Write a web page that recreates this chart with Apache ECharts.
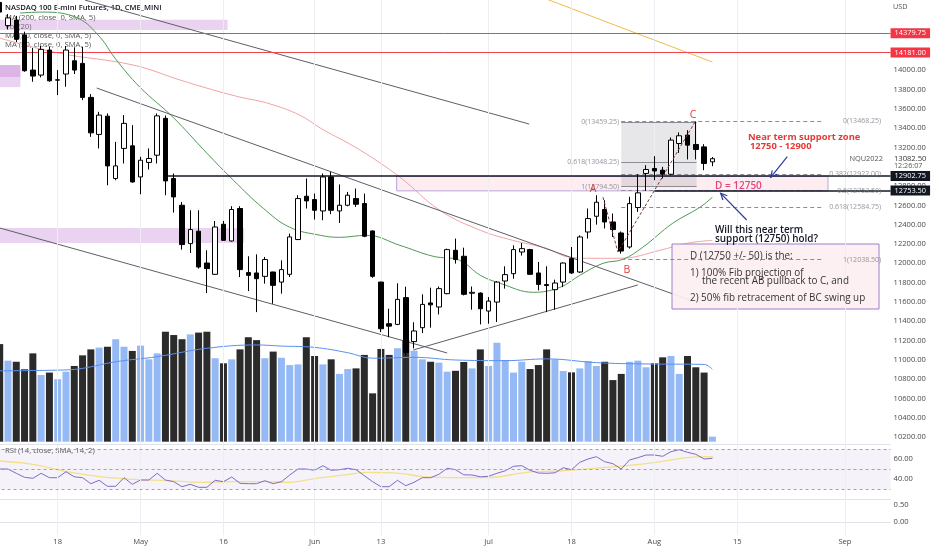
<!DOCTYPE html>
<html>
<head>
<meta charset="utf-8">
<script src="https://cdn.jsdelivr.net/npm/echarts@6/dist/echarts.min.js"></script>
<style>
html,body{margin:0;padding:0;background:#ffffff;}
#chart{width:932px;height:550px;}
</style>
</head>
<body>
<div id="chart"></div>
<script>
// ---------------- DATA ----------------
const dates = ['04-06','04-07','04-08','04-11','04-12','04-13','04-14','04-18','04-19','04-20','04-21','04-22','04-25','04-26','04-27','04-28','04-29',
'05-02','05-03','05-04','05-05','05-06','05-09','05-10','05-11','05-12','05-13','05-16','05-17','05-18','05-19','05-20','05-23','05-24','05-25','05-26','05-27','05-31',
'06-01','06-02','06-03','06-06','06-07','06-08','06-09','06-10','06-13','06-14','06-15','06-16','06-17','06-21','06-22','06-23','06-24','06-27','06-28','06-29','06-30',
'07-01','07-05','07-06','07-07','07-08','07-11','07-12','07-13','07-14','07-15','07-18','07-19','07-20','07-21','07-22','07-25','07-26','07-27','07-28','07-29',
'08-01','08-02','08-03','08-04','08-05','08-08','08-09','08-10','08-11','08-12','08-15','08-16','08-17','08-18','08-19','08-22','08-23','08-24','08-25','08-26','08-29','08-30','08-31',
'09-01','09-02','09-06','09-07','09-08','09-09'];
const tickLabels = {'04-18':'18','05-02':'May','05-16':'16','06-01':'Jun','06-13':'13','07-01':'Jul','07-18':'18','08-01':'Aug','08-15':'15','09-01':'Sep'};

const opens = [14700,14460,14518,14363,14000,13948,14207,13895,13959,14096,
14069,13717,13334,13523,12878,13189,13216,12894,13044,13119,
13500,12878,12601,12204,12332,12003,11886,12404,12231,12567,
11904,11900,11865,11910,11806,11886,12246,12694,12660,12542,
12894,12542,12601,12670,12619,12335,11806,11375,11368,11645,
11190,11334,11590,11548,11686,12135,12073,11690,11692,11506,
11599,11817,11893,12117,12142,11900,11780,11727,11806,12049,
11910,12324,12487,12557,12428,12314,12169,12577,12930,12981,
12964,12922,13240,13327,13230,13205,13050];
const closes = [14600,14540,14318,13993,13938,14214,13889,13900,14207,14000,
13717,13350,13534,13008,13008,13448,12842,13067,13085,13526,
12853,12687,12194,12349,11962,11945,12376,12238,12557,11935,
11876,11841,12039,11772,11935,12273,12670,12646,12549,12894,
12549,12601,12705,12611,12280,11865,11323,11350,11627,11078,
11300,11575,11570,11738,12142,12039,11679,11700,11530,11609,
11806,11883,12142,12152,11886,11782,11770,11796,12003,11900,
12273,12463,12632,12428,12349,12127,12618,12729,12971,12956,
12922,13275,13320,13223,13178,13033,13082.5];
const lows = [14560,14420,14290,13982,13879,13924,13879,13741,13827,13959,
13689,13309,13189,12808,12860,13033,12835,12715,12971,13033,
12705,12525,12142,12107,11945,11692,11880,12231,12225,11858,
11713,11495,11790,11582,11686,11858,12240,12567,12453,12446,
12508,12418,12590,12584,12270,11850,11288,11236,11360,11047,
11120,11278,11334,11471,11680,11997,11668,11520,11368,11375,
11392,11738,11841,12080,11880,11720,11495,11520,11754,11890,
11900,12256,12400,12360,12273,12100,12152,12532,12749,12860,
12878,12910,13143,13075,13075,12964,13005];
const highs = [14780,14580,14560,14397,14228,14249,14241,14000,14249,14235,
14241,13751,13568,13551,13257,13534,13430,13102,13189,13551,
13530,12929,12635,12549,12549,12135,12438,12438,12591,12591,
12073,12093,12066,11913,12031,12308,12705,12878,12722,12929,
12946,12816,12739,12774,12722,12340,11810,11530,11793,11758,
11390,11679,11748,11760,12152,12256,12162,11760,11700,11651,
11815,11969,12186,12210,12150,12014,11969,11831,12010,12169,
12290,12567,12705,12653,12515,12330,12688,12922,13016,13109,
12998,13302,13355,13378,13468,13233,13100];
const volumes = [442,367,362,328,400,302,313,283,317,343,
391,418,426,430,464,430,411,435,373,400,
498,483,464,486,494,498,378,355,373,418,
473,460,378,408,380,347,350,473,388,350,
373,307,329,332,393,219,420,393,423,461,
412,373,362,358,317,321,361,332,418,343,
448,370,313,362,329,347,418,373,320,314,
332,365,343,362,279,307,362,367,337,355,
382,388,307,388,337,313,23];
const volMa = [[0,321],[8,325],[10,332],[14,362],[19,385],[25,423],[31,438],[34,433],[38,427],[42,403],[45,378],[50,382],[55,370],[61,367],[66,375],[72,358],[78,352],[85,350],[86,328]];

const ma20 = [[2.45,14590],[5.2,14600],[9.4,14538],[12.1,14341],[13.9,14124],[16.9,13824],[20.9,13513],[25,13140],[28.2,12860],[31.8,12570],[35,12373],[38.7,12290],[41,12269],[44.3,12290],[48.3,12186],[52.3,12073],[55.5,12031],[58,11876],[60.4,11793],[64.4,11700],[67.6,11751],[70,11876],[72.8,12000],[75.2,12041],[77.6,12166],[81.2,12414],[84.5,12580],[86,12684]];
const ma50 = [[0,14331],[7.1,14176],[16.1,14052],[21.8,13896],[25,13813],[29,13720],[32.3,13658],[36.2,13534],[38.7,13399],[43.5,13171],[48.3,12891],[53.1,12549],[58,12342],[61.9,12238],[66,12155],[68.8,12062],[71.6,12052],[74.9,12052],[79.7,12135],[82.9,12207],[86,12238]];
const ma200 = [[64,14800],[75,14440],[86,14083]];

const rsi = [50.3,50.3,46,42,41,46,41.6,41.6,47.6,42.5,
41.6,35.6,39,33,33,41.6,35,39.3,39.3,46,
39.3,37.6,32.6,35,32,32,39,37.6,42.3,36,
35.6,35.6,38.6,35.6,37.6,44.3,50.3,50.3,49,53.6,
49,49.6,51,49.6,43.6,37.6,32.6,32.6,39,33.6,
37,41.6,41.6,45,51,49.6,44.5,44.3,42.5,43,
46,48.5,53,53.6,49,46.3,46,46.5,51.6,49.6,
57,60.3,62.6,57.6,55.6,50.3,59.3,61.6,64.3,64.3,
63,67.6,69.6,67,65,60.3,61];
const rsiSma = [[0,58.3],[4,55],[8.1,47.6],[12.1,42.6],[16.1,40],[20.2,38.6],[24.2,37],[28.2,37.6],[32.2,37.6],[35,37],[38.2,41],[42.2,45],[44.3,47],[48.3,46],[51.1,42.6],[55.5,41.6],[58.8,41.6],[63.6,47],[67.6,48.3],[71.7,51],[75.7,53.6],[79.7,57.6],[82.9,61.6],[85.3,62.6],[86.1,62.3]];

const priceTickLabels = [10200,10400,10600,10800,11000,11200,11400,11600,11800,12000,12200,12400,12600,12800,13200,13400,13600,13800,14000];
const rsiTickLabels = [40,60];
const lowTickLabels = [0,0.5];

// drawings (date index, price)
const trendLines = [
  [[10.3,14724],[63.9,13441]],
  [[11.7,13814],[83.3,11620]],
  [[0.04,12365],[54,11072]],
  [[49.9,11103],[77,11776]]
];
const abcPath = [[72.8,12684],[74.6,12117],[83.9,13462]];
const tagPrices = [14379.75,14181.00,12902.75,12753.50];
const tagStarts = [-0.5,-0.5,20.3,79];
const zoneX = [[-0.5,27.5],[-0.5,2.5],[-0.5,2.5],[-0.5,29.5]];
const zoneY = [[14520,14415],[14052,13824],[14052,13928],[12365,12210]];
const supportBoxX = [47.9,99.95], supportBoxY = [12900,12750];
const fibLeftLevels = [13459.25,13048.25,12794.5], fibLeftNames = ['0','0.618','1'], fibLeftSpan = [75,84.1];
const fibRightLevels = [13468.25,12922,12753.5,12584.75,12038.5], fibRightNames = ['0','0.382','0.5','0.618','1'], fibRightSpan = [75,99.3], fibRightLabelX = 106.6;
const lastPrice = 13082.5;

// ---------------- CHART ----------------
const FONT = '"Open Sans","Noto Sans",sans-serif';
const chart = echarts.init(document.getElementById('chart'));
const GL = -4.45, GW = 895;
const XMIN = -0.5, XMAX = dates.length - 0.5;
const AX = '#e0e3eb';

const candleData = opens.map((o,i)=>[o, closes[i], lows[i], highs[i]]);
const volData = volumes.map((v,i)=>({value:v, itemStyle:{color: closes[i] >= opens[i] ? '#94b9f4' : '#2b2b2b'}}));
const tickIdx = Object.keys(tickLabels).map(d=>dates.indexOf(d));

function vGrid(xi, yi){
  return {type:'line', xAxisIndex:xi, yAxisIndex:yi, data:[], silent:true, z:0,
    markLine:{silent:true, symbol:'none', animation:false, label:{show:false},
      lineStyle:{color:'#eceef3', width:1, type:'solid'}, data: tickIdx.map(i=>({xAxis:i}))}};
}
function seg(a,b,style){ return [{coord:a, lineStyle:style}, {coord:b}]; }

const valueX = (gi)=>({type:'value', gridIndex:gi, min:XMIN, max:XMAX, show:false});
const cat = (gi, extra)=>Object.assign({type:'category', gridIndex:gi, data:dates, boundaryGap:true,
  axisTick:{show:false}, axisLabel:{show:false}, splitLine:{show:false}, axisLine:{show:false}}, extra||{});
const axisLabelBase = {color:'#4a4a4a', fontSize:7.6, fontFamily:FONT, margin:3};

const series = [];
series.push(vGrid(1,0), vGrid(3,2), vGrid(5,3));

series.push({type:'line', xAxisIndex:1, yAxisIndex:0, data:[], silent:true, z:1,
  markArea:{silent:true, itemStyle:{color:'rgba(190,120,210,0.33)'},
    data: zoneX.map((x,i)=>[{coord:[x[0], zoneY[i][0]]},{coord:[x[1], zoneY[i][1]]}])}});
series.push({type:'line', xAxisIndex:1, yAxisIndex:0, data:[], silent:true, z:1,
  markArea:{silent:true, itemStyle:{color:'rgba(248,190,205,0.28)', borderColor:'#b9a6d8', borderWidth:1},
    data:[[{coord:[supportBoxX[0], supportBoxY[0]]},{coord:[supportBoxX[1], supportBoxY[1]]}]]}});
series.push({type:'line', xAxisIndex:1, yAxisIndex:0, data:[], silent:true, z:1,
  markArea:{silent:true, itemStyle:{color:'rgba(120,123,134,0.18)'},
    data:[[{coord:[fibLeftSpan[0], fibLeftLevels[0]]},{coord:[fibLeftSpan[1], fibLeftLevels[2]]}]]}});

series.push({type:'bar', xAxisIndex:2, yAxisIndex:1, data:volData, barWidth:7, z:2, silent:true});
series.push({type:'line', xAxisIndex:2, yAxisIndex:1, data:volMa, showSymbol:false, smooth:0.4, z:3,
  lineStyle:{color:'#5b8ff0', width:1}, silent:true});

series.push({type:'line', xAxisIndex:1, yAxisIndex:0, data:ma200, showSymbol:false, smooth:0.3, z:3, lineStyle:{color:'#f5b84a', width:1}, silent:true});
series.push({type:'line', xAxisIndex:1, yAxisIndex:0, data:ma50, showSymbol:false, smooth:0.4, z:3, lineStyle:{color:'#f2a3a6', width:1}, silent:true});
series.push({type:'line', xAxisIndex:1, yAxisIndex:0, data:ma20, showSymbol:false, smooth:0.4, z:3, lineStyle:{color:'#4f9a55', width:1}, silent:true});

trendLines.forEach(t=>series.push({type:'line', xAxisIndex:1, yAxisIndex:0, data:t, showSymbol:false, z:4,
  lineStyle:{color:'#5d5f66', width:1}, silent:true}));

series.push({type:'line', xAxisIndex:1, yAxisIndex:0, data:[], silent:true, z:3,
  markLine:{silent:true, symbol:'none', label:{show:false}, animation:false,
    data: fibLeftLevels.map(l=>seg([fibLeftSpan[0], l],[fibLeftSpan[1], l], {color:'#8a8d96', width:1, type:'solid'}))
      .concat(fibRightLevels.map(l=>seg([fibRightSpan[0], l],[fibRightSpan[1], l], {color:'#8a8d96', width:1, type:[4,3]})))}});
const fibLabelData = fibLeftLevels.map((l,i)=>[fibLeftSpan[0], l, fibLeftNames[i]+'('+l.toFixed(2)+')'])
  .concat(fibRightLevels.map((l,i)=>[fibRightLabelX, l, fibRightNames[i]+'('+l.toFixed(2)+')']));
series.push({type:'scatter', xAxisIndex:1, yAxisIndex:0, data:fibLabelData, symbolSize:0.1, z:8, silent:true,
  itemStyle:{color:'rgba(0,0,0,0)'},
  label:{show:true, position:'left', distance:2, formatter:p=>p.data[2], color:'#787b86', fontSize:7, fontFamily:FONT}});

series.push({type:'line', xAxisIndex:1, yAxisIndex:0, data:[], silent:true, z:6,
  markLine:{silent:true, symbol:'none', animation:false,
    data: tagPrices.map((p,i)=>{
      const red = i < 2;
      return [{coord:[tagStarts[i], p], lineStyle:{color: red ? '#f0454f' : '#131722', width: red ? 1 : 1.6, type:'solid', opacity:1},
        label:{show:true, position:'end', distance:0, formatter:p.toFixed(2), color:'#fff',
          backgroundColor: red ? '#f23645' : '#131722', padding:[2,4,1,4], fontSize:7.4, fontFamily:FONT}},
        {coord:[XMAX, p]}];
    })}});

series.push({type:'line', xAxisIndex:1, yAxisIndex:0, data:abcPath, showSymbol:false, z:6,
  lineStyle:{color:'#7a3838', width:1, type:[3,2]}, silent:true});

series.push({type:'candlestick', xAxisIndex:0, yAxisIndex:0, data:candleData, barWidth:5, z:5, silent:true,
  itemStyle:{color:'#ffffff', color0:'#000000', borderColor:'#000000', borderColor0:'#000000', borderWidth:1}});

series.push({type:'line', xAxisIndex:3, yAxisIndex:2, data:rsi.map((v,i)=>[i,v]), showSymbol:false, z:4,
  lineStyle:{color:'#7e6cc4', width:1}, silent:true,
  markArea:{silent:true, itemStyle:{color:'rgba(126,87,194,0.08)'}, data:[[{yAxis:70},{yAxis:30}]]},
  markLine:{silent:true, symbol:'none', label:{show:false}, lineStyle:{color:'#a0a3ab', width:1, type:[3,3]},
    data:[{yAxis:70},{yAxis:50},{yAxis:30}]}});
series.push({type:'line', xAxisIndex:3, yAxisIndex:2, data:rsiSma, showSymbol:false, smooth:0.4, z:3,
  lineStyle:{color:'#f3e08a', width:1.3}, silent:true});

// ---------------- GRAPHIC (annotations) ----------------
function txt(x,y,text,size,color,weight,align){
  return {type:'text', x:x, y:y, z:20, silent:true, style:{text:text, fill:color,
    font:(weight||'normal')+' '+size+'px '+FONT, textAlign:align||'left', textVerticalAlign:'middle',
    align:align||'left', verticalAlign:'middle'}};
}
function arrow(x1,y1,x2,y2,color){
  const a=Math.atan2(y2-y1,x2-x1), L=7, s=0.45;
  return [
    {type:'line', z:20, silent:true, shape:{x1,y1,x2,y2}, style:{stroke:color, lineWidth:1.2}},
    {type:'polyline', z:20, silent:true, shape:{points:[[x2-L*Math.cos(a-s), y2-L*Math.sin(a-s)],[x2,y2],[x2-L*Math.cos(a+s), y2-L*Math.sin(a+s)]]},
      style:{stroke:color, lineWidth:1.2, fill:null}}
  ];
}
const legendEls = [
  txt(5,8.3,'NASDAQ 100 E-mini Futures, 1D, CME_MINI',7.6,'#131722',600),
  txt(5,17.7,'MA (200, close, 0, SMA, 5)',7.7,'#555'),
  txt(5,26.7,'Vol (20)',7.7,'#555'),
  txt(5,35.7,'MA (50, close, 0, SMA, 5)',7.7,'#555'),
  txt(5,45,'MA (20, close, 0, SMA, 5)',7.7,'#555'),
  txt(5,451,'RSI (14, close, SMA, 14, 2)',7.7,'#555')
].map(e=>Object.assign(e,{z:1}));

const BOXF = 9.9;
const graphic = legendEls.concat([
  txt(893,7,'USD',7.2,'#555'),
  txt(883,159,'NQU2022',7.4,'#555','normal','right'),
  txt(894,158.7,lastPrice.toFixed(2),7.6,'#333'),
  txt(894,165.5,'12:26:07',7.2,'#555'),
  txt(748,137,'Near term support zone',9.4,'#e53935','bold'),
  txt(750,146,'12750 - 12900',9.4,'#e53935','bold'),
  txt(715,186,'D = 12750',10,'#e8437a',600),
  txt(715,230,'Will this near term',9.9,'#131722',600),
  txt(715,239,'support (12750) hold?',9.9,'#131722',600),
  {type:'rect', z:5, silent:true, shape:{x:672,y:244,width:207,height:65}, style:{fill:'rgba(253,239,241,0.92)', stroke:'#9c7fd1', lineWidth:1}},
  txt(690,256,'D (12750 +/- 50) is the:',BOXF,'#333'),
  txt(690,272.7,'1) 100% Fib projection of',BOXF,'#333'),
  txt(702,281.3,'the recent AB pullback to C, and',BOXF,'#333'),
  txt(690,298.3,'2) 50% fib retracement of BC swing up',BOXF,'#333'),
  txt(593,189,'A',10.5,'#e53935','normal','center'),
  txt(627,270,'B',10.5,'#e53935','normal','center'),
  txt(693,115,'C',10.5,'#e53935','normal','center')
]).concat(arrow(787.3,156.7,770.7,177.3,'#2c3e9c'), arrow(746.7,220,720.7,193.3,'#2c3e9c'));

const option = {
  animation:false,
  backgroundColor:'#ffffff',
  grid:[
    {left:GL, top:0, width:GW, height:444.5, containLabel:false, outerBoundsMode:'none'},
    {left:GL, top:0, width:GW, height:441.7, containLabel:false, outerBoundsMode:'none'},
    {left:GL, top:439.3, width:GW, height:60, containLabel:false, outerBoundsMode:'none'},
    {left:GL, top:498.4, width:GW, height:36.7, containLabel:false, outerBoundsMode:'none'}
  ],
  xAxis:[
    cat(0,{axisLine:{show:true, lineStyle:{color:AX}}}),
    valueX(0),
    cat(1),
    {type:'value', gridIndex:2, min:XMIN, max:XMAX, axisLine:{show:true, lineStyle:{color:AX}}, axisTick:{show:false}, axisLabel:{show:false}, splitLine:{show:false}},
    cat(3,{axisLine:{show:true, lineStyle:{color:AX}}, axisLabel:Object.assign({}, axisLabelBase, {show:true, interval:0, formatter:v=>tickLabels[v]||''})}),
    valueX(3)
  ],
  yAxis:[
    {type:'value', gridIndex:0, position:'right', min:10125, max:14725, interval:25,
      axisLine:{show:true, lineStyle:{color:AX}}, axisTick:{show:false}, splitLine:{show:false},
      axisLabel:Object.assign({}, axisLabelBase, {formatter:v=>priceTickLabels.includes(v) ? v.toFixed(2) : ''})},
    {type:'value', gridIndex:1, min:0, max:2000, show:false},
    {type:'value', gridIndex:2, position:'right', min:20, max:80, interval:20,
      axisLine:{show:true, lineStyle:{color:AX}}, axisTick:{show:false}, splitLine:{show:false},
      axisLabel:Object.assign({}, axisLabelBase, {formatter:v=>rsiTickLabels.includes(v) ? v.toFixed(2) : ''})},
    {type:'value', gridIndex:3, position:'right', min:-0.4, max:0.7, interval:0.1,
      axisLine:{show:true, lineStyle:{color:AX}}, axisTick:{show:false}, splitLine:{show:false},
      axisLabel:Object.assign({}, axisLabelBase, {formatter:v=>{const t=lowTickLabels.find(t=>Math.abs(t-v)<1e-6); return t===undefined ? '' : t.toFixed(2);}})}
  ],
  series:series,
  graphic:{elements:graphic}
};
chart.setOption(option);
</script>
</body>
</html>
